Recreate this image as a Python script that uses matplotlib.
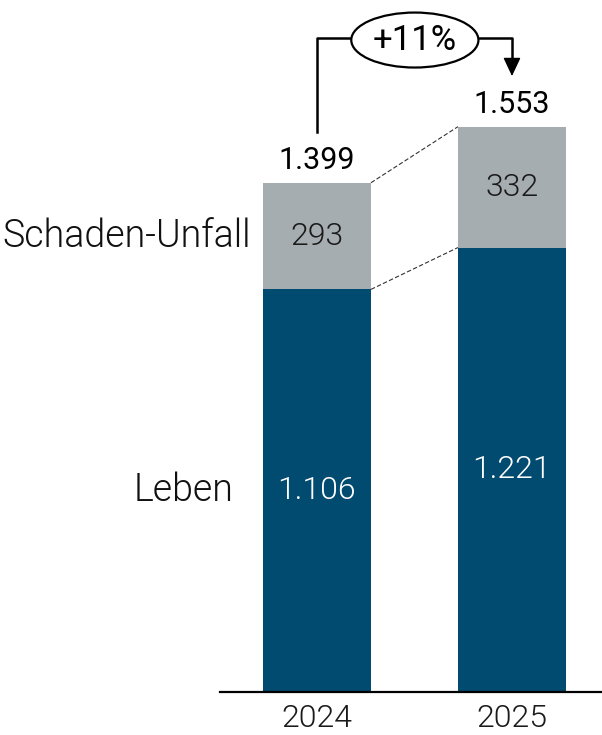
import matplotlib
matplotlib.use('Agg')
import matplotlib.pyplot as plt
from matplotlib.patches import Ellipse

plt.rcParams['font.family'] = ['Roboto', 'DejaVu Sans']

# chart data
years = ['2024', '2025']
leben = [1106, 1221]
schaden = [293, 332]
totals = [1399, 1553]
labels_leben = ['1.106', '1.221']
labels_schaden = ['293', '332']
labels_total = ['1.399', '1.553']
growth_label = '+11%'

blue = '#024b70'
grey = '#a6adb0'

fig = plt.figure(figsize=(6.02, 7.35), dpi=100)
ax = fig.add_axes([220 / 602, 43 / 735, 382 / 602, 692 / 735])
ax.set_xlim(-0.497, 1.4615)
ax.set_ylim(0, 1901)
ax.axis('off')
ax.axhline(0, color='black', lw=1.6, clip_on=False)

x = [0, 1]
w = 0.554
ax.bar(x, leben, width=w, color=blue)
ax.bar(x, schaden, width=w, bottom=leben, color=grey)

for i in x:
    ax.text(i, leben[i] / 2, labels_leben[i], ha='center', va='center',
            color='white', fontsize=23, fontweight=300)
    ax.text(i, leben[i] + schaden[i] / 2, labels_schaden[i], ha='center', va='center',
            color='#1a1a1a', fontsize=23, fontweight=300)
    ax.text(i, totals[i] + 38, labels_total[i], ha='center', va='baseline',
            color='black', fontsize=22)
    ax.text(i, -72, years[i], ha='center', va='center',
            color='#1a1a1a', fontsize=23, fontweight=300)

# dashed connectors between bars
ax.plot([w / 2, 1 - w / 2], [totals[0], totals[1]], color='#333333', lw=0.8, ls=(0, (4, 2)))
ax.plot([w / 2, 1 - w / 2], [leben[0], leben[1]], color='#333333', lw=0.8, ls=(0, (4, 2)))

# row labels on the left
ax.text(-w / 2 - 0.06, leben[0] + schaden[0] / 2, 'Schaden-Unfall', ha='right', va='center',
        fontsize=27, fontweight=300, color='#111111')
ax.text(-w / 2 - 0.15, leben[0] / 2, 'Leben', ha='right', va='center',
        fontsize=27, fontweight=300, color='#111111')

# growth bracket
top_y = 1796
ex = 0.502
ax.plot([0, 0, ex - 0.33], [totals[0] + 140, top_y, top_y], color='black', lw=1.8)
ax.plot([ex + 0.33, 1, 1], [top_y, top_y, totals[1] + 185], color='black', lw=1.8)
ax.annotate('', xy=(1, totals[1] + 139), xytext=(1, totals[1] + 186),
            arrowprops=dict(arrowstyle='-|>,head_length=11.5,head_width=5.4',
                            mutation_scale=1, color='black', lw=1.0,
                            shrinkA=0, shrinkB=0))
ax.add_patch(Ellipse((ex, top_y - 5), 0.652, 151, facecolor='white',
                     edgecolor='black', lw=1.6, clip_on=False))
ax.text(ex, top_y - 5, growth_label, ha='center', va='center', fontsize=25, color='black')

fig.savefig('out.png', dpi=100)
